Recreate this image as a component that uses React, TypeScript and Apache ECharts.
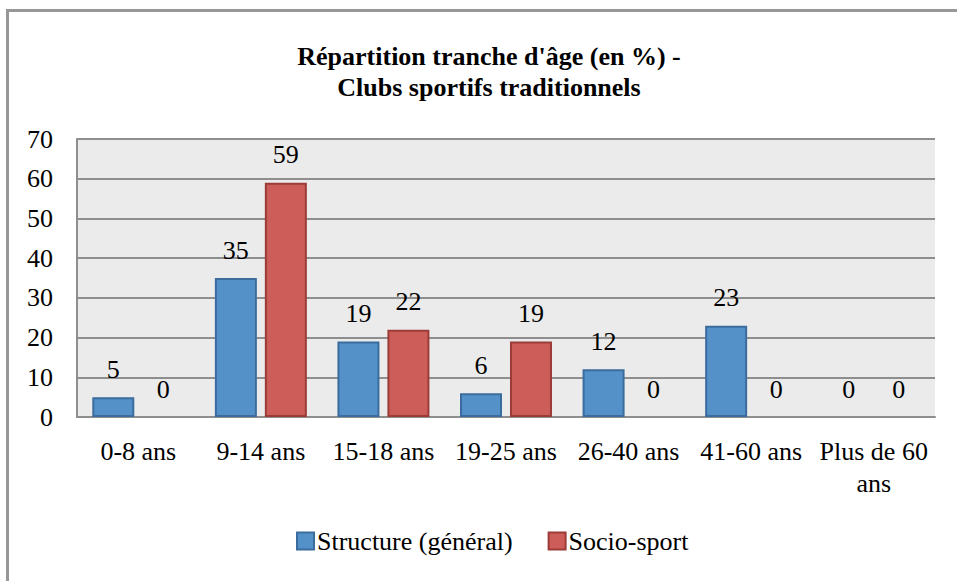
import React, { useEffect, useRef } from "react";
import * as echarts from "echarts";

const categories = ["0-8 ans", "9-14 ans", "15-18 ans", "19-25 ans", "26-40 ans", "41-60 ans", "Plus de 60\nans"];
const structureValues = [5, 35, 19, 6, 12, 23, 0];
const socioValues = [0, 59, 22, 19, 0, 0, 0];
const seriesNames = ["Structure (général)", "Socio-sport"];
const titleLines = ["Répartition tranche d'âge (en %) -", "Clubs sportifs traditionnels"];

const FONT = "Liberation Serif";

const toData = (vals: number[]) =>
  vals.map((v) => (v === 0 ? { value: v, itemStyle: { borderWidth: 0 } } : v));

export default function App() {
  const ref = useRef<HTMLDivElement>(null);
  useEffect(() => {
    const chart = echarts.init(ref.current!, null, { renderer: "svg" });
    const labelStyle = {
      show: true,
      position: "top" as const,
      distance: 15,
      fontFamily: FONT,
      fontSize: 26,
      color: "#000",
    };
    chart.setOption({
      animation: false,
      backgroundColor: "#fff",
      textStyle: { fontFamily: FONT },
      graphic: [
        {
          type: "rect",
          shape: { x: 7.5, y: 10.5, width: 1200, height: 1200 },
          style: { fill: "none", stroke: "#979797", lineWidth: 3 },
          silent: true,
        },
        {
          type: "text",
          x: 489,
          y: 41,
          style: {
            text: titleLines.join("\n"),
            align: "center",
            verticalAlign: "top",
            fontFamily: FONT,
            fontSize: 26,
            fontWeight: "bold",
            lineHeight: 31,
            fill: "#000",
          },
        },
      ],
      grid: {
        left: 77,
        right: 22,
        top: 139,
        bottom: 164,
        show: true,
        backgroundColor: "#ebebeb",
        borderWidth: 0,
      },
      legend: {
        data: seriesNames,
        left: 291,
        top: 523,
        itemWidth: 17,
        itemHeight: 17,
        itemGap: 35,
        textStyle: { fontFamily: FONT, fontSize: 26, color: "#000", padding: [0, 0, 0, -2] },
        icon: "rect",
      },
      xAxis: {
        type: "category",
        data: categories,
        axisLine: { show: true, lineStyle: { color: "#8e8e8e", width: 2 } },
        axisTick: { show: false },
        axisLabel: {
          fontFamily: FONT,
          fontSize: 26,
          color: "#000",
          margin: 18,
          lineHeight: 32,
          interval: 0,
        },
      },
      yAxis: {
        type: "value",
        min: 0,
        max: 70,
        interval: 10,
        axisLine: { show: true, lineStyle: { color: "#8e8e8e", width: 2 } },
        axisTick: { show: false },
        splitLine: { show: true, lineStyle: { color: "#8e8e8e", width: 2 } },
        axisLabel: { fontFamily: FONT, fontSize: 26, color: "#000", margin: 24 },
      },
      series: [
        {
          name: seriesNames[0],
          type: "bar",
          data: toData(structureValues),
          barWidth: 42,
          barGap: "19%",
          itemStyle: { color: "#5591c9", borderColor: "#3a6c9e", borderWidth: 2 },
          label: labelStyle,
        },
        {
          name: seriesNames[1],
          type: "bar",
          data: toData(socioValues),
          barWidth: 42,
          barGap: "19%",
          itemStyle: { color: "#cd5d58", borderColor: "#9c3c38", borderWidth: 2 },
          label: labelStyle,
        },
      ],
    });
    return () => chart.dispose();
  }, []);
  return (
    <div
      ref={ref}
      style={{ position: "fixed", left: 0, top: 0, width: 957, height: 581 }}
    />
  );
}
